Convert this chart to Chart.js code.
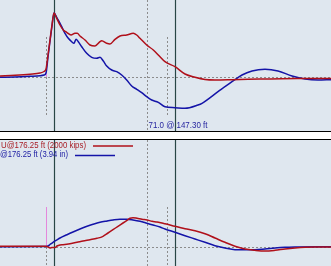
<!DOCTYPE html>
<html><head><meta charset="utf-8">
<script src="https://cdn.jsdelivr.net/npm/chart.js@4"></script>
<style>
html,body{margin:0;padding:0;background:#fff;overflow:hidden}
#wrap{width:331px;height:266px;position:relative}
#top{position:absolute;left:0;top:0;width:331px;height:131px}
#band{position:absolute;left:0;top:131px;width:331px;height:7px;border-top:1px solid #000;border-bottom:1px solid #000;background:#fff}
#bot{position:absolute;left:0;top:140px;width:331px;height:126px}
canvas{display:block}
</style></head>
<body>
<div id="wrap">
<div id="top"><canvas id="c1" width="331" height="131"></canvas></div>
<div id="band"></div>
<div id="bot"><canvas id="c2" width="331" height="126"></canvas></div>
</div>
<script>
// ---- data (time in ms, values in kips-equivalent) ----
const topForceT = [-9.2,-6.2,-3.2,-1.2,-0.4,0,0.4,0.8,1.2,1.6,2.14,2.8,3.46,4.14,5.0,5.8,6.26,6.8,7.8,8.8,9.8,10.8,11.14,12.14,12.8,13.8,14.8,16.14,17.46,18.14,18.8,20.14,21.46,22.8,23.8,25.8,27.8,29.8,31.8,33.8,37.2,40.4,43.8,47.2,50.4,53.8,57];
const topForceV = [20,34,56,80,110,160,440,740,1040,1280,1174,1040,940,894,840,874,874,820,740,640,620,706,726,674,660,754,820,840,874,840,774,640,540,406,306,206,60,-6,-50,-60,-54,-46,-40,-34,-32,-32,-32];
const topVelT = [-9.2,-6.2,-3.2,-1.2,-0.4,0,0.4,0.8,1.2,1.6,2.2,2.46,3.14,3.8,4.46,5.14,5.6,6.0,6.46,7.14,8.14,9.14,10.14,10.8,11.46,12.14,13.14,14.14,15.14,16.14,17.14,18.14,19.14,20.14,21.14,22.46,23.8,25.8,27.8,30.4,31.2,34.4,37.2,39.2,41.2,43.8,46.4,49.2,51.8,54.4,57];
const topVelV = [-6,0,14,26,40,80,400,720,1020,1280,1180,1140,1006,874,774,706,674,754,706,606,474,394,374,394,320,220,140,106,40,-60,-180,-246,-314,-394,-460,-506,-594,-614,-626,-560,-526,-294,-94,40,120,154,120,20,-40,-60,-54];
const botForceT = [-9.2,-5.2,-0.4,0,0.4,0.8,1.2,1.8,2.2,2.8,3.4,4.8,6.2,7.4,8.8,10.2,11.4,12.4,13.4,14.4,15.4,16.2,16.8,17.4,18.2,19.2,20.2,21.2,22.2,23.4,23.8,25.8,27.8,29.8,31.8,33.8,35.8,37.8,39.8,41.8,43.8,45.8,47.8,49.8,51.8,53.8,57];
const botForceV = [16,16,16,14,0,-20,-10,-10,20,40,46,66,94,120,146,174,214,280,346,414,480,534,574,586,574,554,540,514,500,474,466,414,366,326,266,180,94,14,-40,-66,-80,-66,-40,-20,-6,0,0];
const botVelT = [-9.2,-0.4,0,0.4,0.8,1.4,2.2,2.8,4.2,5.4,6.8,8.2,9.4,10.8,12.2,13.4,14.8,16.2,17.4,18.8,20.2,21.4,22.8,23.8,25.8,27.8,29.8,31.8,33.8,35.8,37.8,39.8,41.8,43.8,45.8,47.8,49.8,57];
const botVelV = [6,8,10,20,50,94,144,180,246,300,360,414,454,494,520,540,554,554,540,514,474,440,400,360,294,226,160,94,26,-20,-54,-54,-54,-40,-20,-6,0,6];
const topPink = [0,180];
const botPink = [0,800];
const markerT = [0, 1.6, 20.2, 24.2, 25.8];
const readout = "71.0 @ 147.30 ft";
const legendForce = "U@176.25 ft (2000 kips)";
const legendVel = "@176.25 ft (3.94 in)";

// ---- styling ----
const BG = '#dfe7ef', RED = '#b0101a', BLUE = '#1414a8', SOLID = '#284646', DASH = '#8c8c8c', PINK = '#e488dc';
const pts = (t, v) => t.map((x, i) => ({x, y: v[i]}));

function vline(ctx, x, y1, y2, color, dash, w){
  ctx.save(); ctx.beginPath(); ctx.setLineDash(dash); ctx.strokeStyle = color; ctx.lineWidth = w;
  ctx.moveTo(x, y1); ctx.lineTo(x, y2); ctx.stroke(); ctx.restore();
}
function decorPlugin(pinkRange, isTop){
  return {
    id: 'decor',
    beforeDraw(chart){
      const {ctx, width, height} = chart;
      const xs = chart.scales.x, ys = chart.scales.y;
      ctx.save(); ctx.fillStyle = BG; ctx.fillRect(0, 0, width, height); ctx.restore();
      const y0 = Math.round(ys.getPixelForValue(0)) + 0.5;
      ctx.save(); ctx.beginPath(); ctx.setLineDash([2,2]); ctx.strokeStyle = DASH; ctx.lineWidth = 1;
      ctx.moveTo(0, y0); ctx.lineTo(width, y0); ctx.stroke(); ctx.restore();
      const px = t => Math.round(xs.getPixelForValue(t)) + 0.5;
      const sTop = ys.getPixelForValue(800), sBot = ys.getPixelForValue(-800);
      vline(ctx, px(markerT[0]), sTop, sBot, DASH, [2,2], 1);
      vline(ctx, px(markerT[3]), sTop, sBot, DASH, [2,2], 1);
      vline(ctx, px(markerT[2]), 0, height, DASH, [2,2], 1);
      vline(ctx, px(markerT[0]), ys.getPixelForValue(pinkRange[1]), ys.getPixelForValue(pinkRange[0]), PINK, [], 1);
      vline(ctx, px(markerT[1]), 0, height, SOLID, [], 1.2);
      vline(ctx, px(markerT[4]), 0, height, SOLID, [], 1.2);
    },
    afterDraw(chart){
      const {ctx} = chart;
      const xs = chart.scales.x;
      ctx.save();
      ctx.font = '9px "Liberation Sans", Arial, sans-serif';
      ctx.textBaseline = 'alphabetic';
      if (isTop){
        ctx.fillStyle = '#2626a0';
        ctx.fillText(readout, Math.round(xs.getPixelForValue(markerT[2])) + 1.5, chart.height - 2.6, 59);
      } else {
        ctx.fillStyle = '#a81c24';
        ctx.fillText(legendForce, 1, 8.4, 85);
        ctx.fillStyle = '#2020a4';
        ctx.fillText(legendVel, 0, 17.4, 68);
        ctx.lineWidth = 1.3;
        ctx.beginPath(); ctx.strokeStyle = RED; ctx.moveTo(93, 6); ctx.lineTo(133, 6); ctx.stroke();
        ctx.beginPath(); ctx.strokeStyle = BLUE; ctx.moveTo(75, 15.5); ctx.lineTo(115, 15.5); ctx.stroke();
      }
      ctx.restore();
    }
  };
}
function makeChart(id, forceT, forceV, velT, velV, ymin, ymax, pink, isTop){
  return new Chart(document.getElementById(id), {
    type: 'line',
    data: { datasets: [
      {data: pts(forceT, forceV), borderColor: RED, borderWidth: 1.5, pointRadius: 0, cubicInterpolationMode: 'monotone'},
      {data: pts(velT, velV), borderColor: BLUE, borderWidth: 1.5, pointRadius: 0, cubicInterpolationMode: 'monotone'}
    ]},
    options: {
      responsive: false, animation: false, events: [],
      layout: {padding: 0},
      plugins: {legend: {display: false}, tooltip: {enabled: false}},
      scales: {
        x: {type: 'linear', min: -9.2, max: 57, display: false},
        y: {type: 'linear', min: ymin, max: ymax, display: false}
      }
    },
    plugins: [decorPlugin(pink, isTop)]
  });
}
makeChart('c1', topForceT, topForceV, topVelT, topVelV, -1080, 1540, topPink, true);
makeChart('c2', botForceT, botForceV, botVelT, botVelV, -380, 2140, botPink, false);
</script>
</body></html>
